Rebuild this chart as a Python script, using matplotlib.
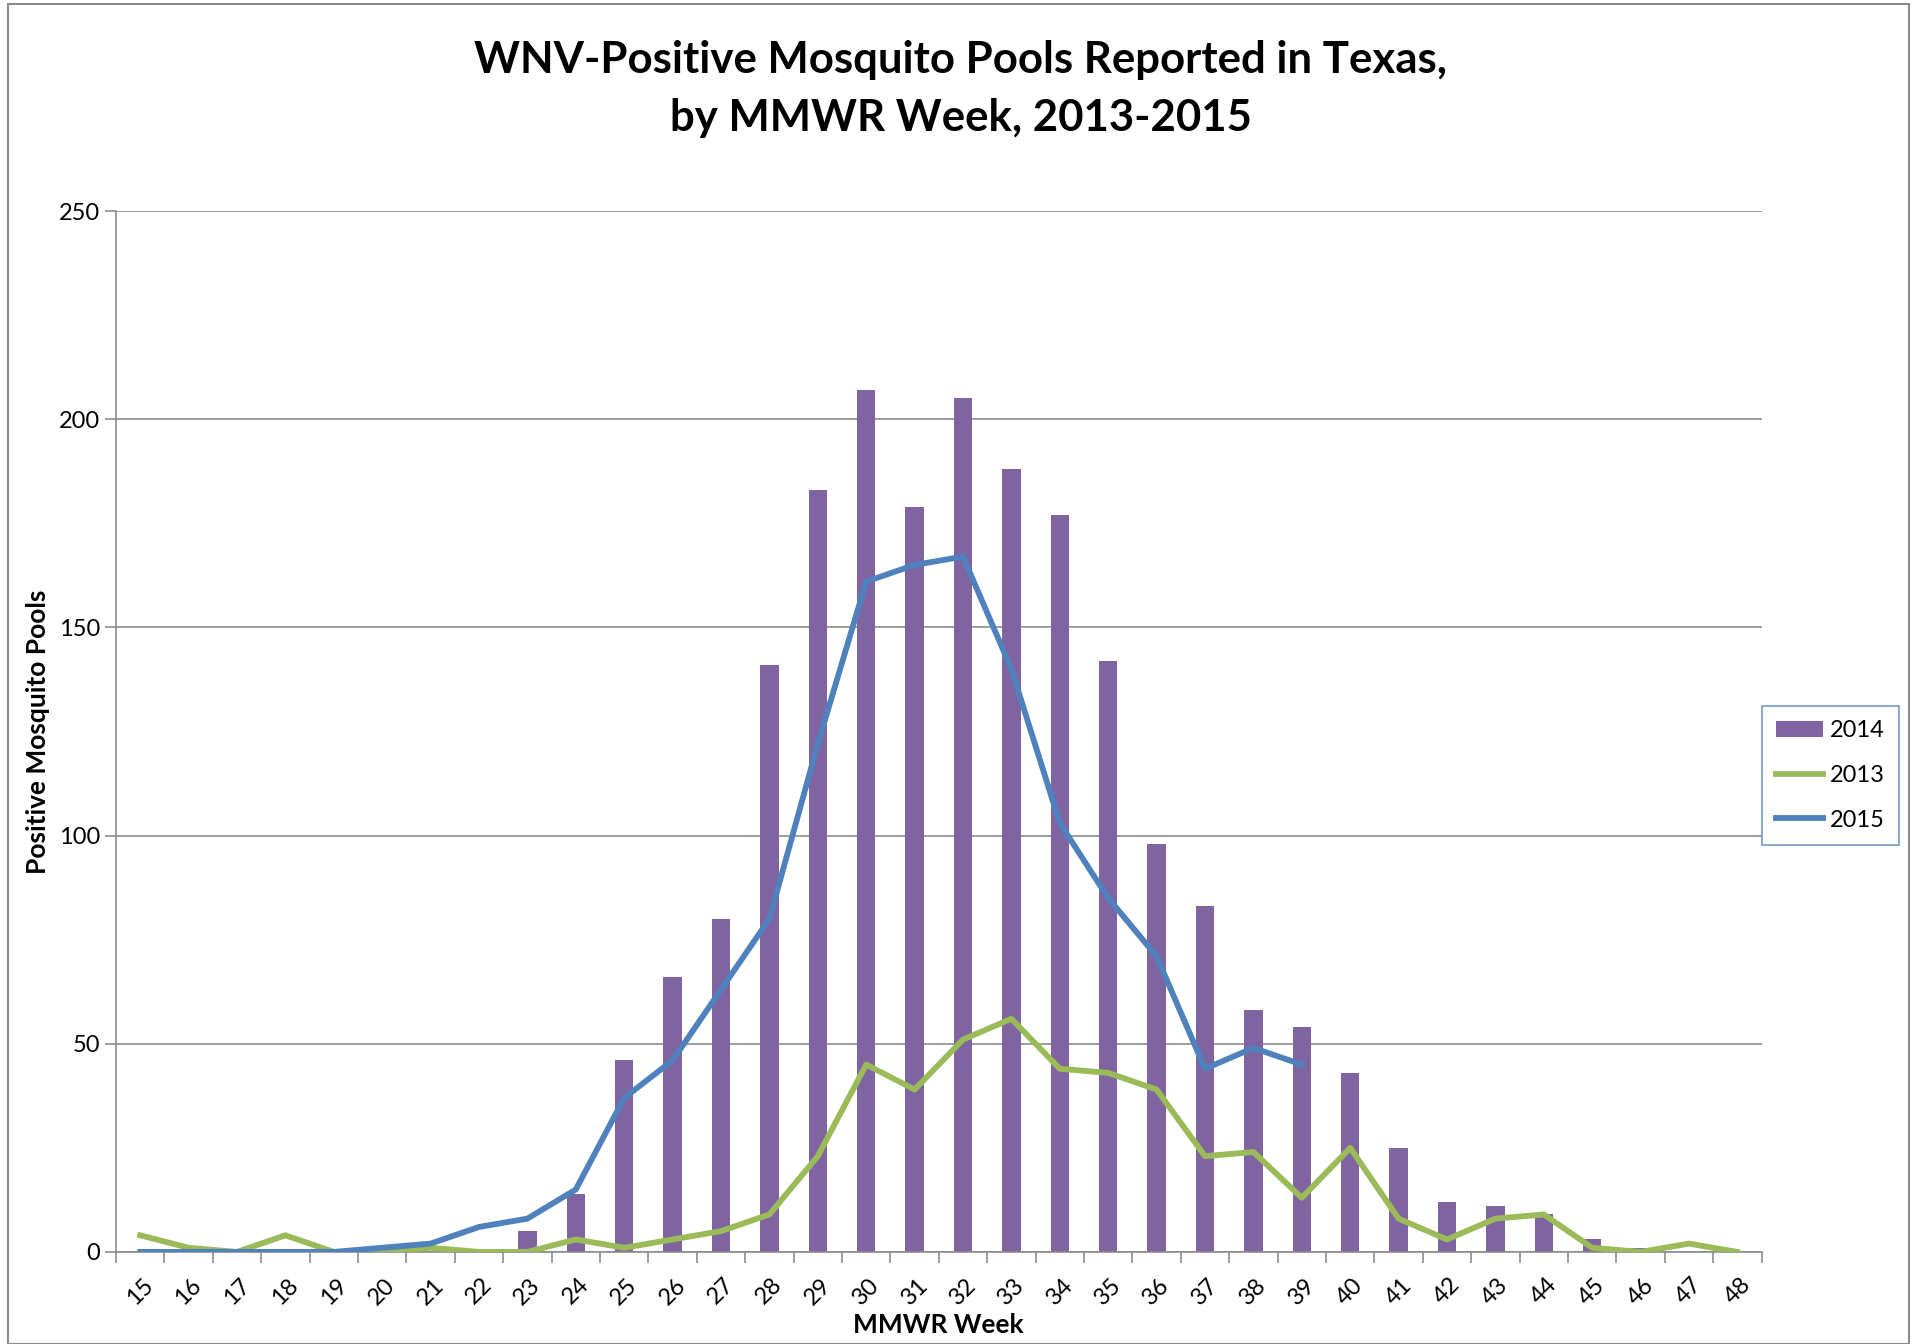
import numpy as np
import matplotlib
matplotlib.use("Agg")
import matplotlib.pyplot as plt
from matplotlib.patches import Rectangle

weeks = list(range(15, 49))
pools_2014 = [0, 0, 0, 0, 0, 0, 0, 0, 5, 14, 46, 66, 80, 141, 183, 207, 179, 205,
              188, 177, 142, 98, 83, 58, 54, 43, 25, 12, 11, 9, 3, 1, 0, 0]
pools_2013 = [4, 1, 0, 4, 0, 0, 1, 0, 0, 3, 1, 3, 5, 9, 23, 45, 39, 51,
              56, 44, 43, 39, 23, 24, 13, 25, 8, 3, 8, 9, 1, 0, 2, 0]
pools_2015 = [0, 0, 0, 0, 0, 1, 2, 6, 8, 15, 37, 46, 63, 80, 122, 161, 165, 167,
              140, 103, 85, 71, 44, 49, 45]

plt.rcParams["font.family"] = ["Lato", "DejaVu Sans"]

fig = plt.figure(figsize=(19.21, 13.44), dpi=100)
ax = fig.add_axes([0.0604, 0.0685, 0.8566, 0.7745])

x = np.arange(len(weeks))
b14 = ax.bar(x, pools_2014, width=0.38, color="#8064A2", label="2014", zorder=2)
l13, = ax.plot(x, pools_2013, color="#9BBB59", lw=4.2, label="2013", zorder=3)
l15, = ax.plot(x[:len(pools_2015)], pools_2015, color="#4F81BD", lw=4.2, label="2015", zorder=4)

ax.set_xlim(-0.5, len(weeks) - 0.5)
ax.set_ylim(0, 250)
ax.set_yticks(range(0, 251, 50))
ax.yaxis.grid(True, color="#8C8C8C", lw=1.2, zorder=0)
ax.set_axisbelow(True)

ax.set_xticks(x)
ax.set_xticklabels([str(w) for w in weeks], rotation=45, fontsize=17)
ax.set_xticks(np.arange(-0.5, len(weeks)), minor=True)
ax.tick_params(axis="x", which="major", length=0, pad=16)
ax.tick_params(axis="x", which="minor", length=8, color="#8C8C8C", width=1.2)
ax.tick_params(axis="y", labelsize=17, length=8, color="#8C8C8C", width=1.2)

for s in ["top", "right"]:
    ax.spines[s].set_visible(False)
for s in ["left", "bottom"]:
    ax.spines[s].set_color("#8C8C8C")
    ax.spines[s].set_linewidth(1.2)

ax.set_xlabel("MMWR Week", fontsize=19, fontweight="bold", labelpad=3)
ax.set_ylabel("Positive Mosquito Pools", fontsize=19, fontweight="bold", labelpad=6)

fig.text(0.5, 0.934, "WNV-Positive Mosquito Pools Reported in Texas,\nby MMWR Week, 2013-2015",
         ha="center", va="center", fontsize=31.5, fontweight="bold", linespacing=1.55)

leg = fig.legend([b14, l13, l15], ["2014", "2013", "2015"], loc="center left",
                 bbox_to_anchor=(0.917, 0.423), fontsize=17,
                 frameon=True, fancybox=False, handlelength=2.0, labelspacing=1.0,
                 borderpad=0.6, handletextpad=0.3, borderaxespad=0)
leg.get_frame().set_edgecolor("#4F81BD")
leg.get_frame().set_linewidth(1.2)

fig.patches.append(Rectangle((0.004, 0.0), 0.99, 0.997, transform=fig.transFigure,
                             fill=False, edgecolor="#8C8C8C", lw=1.5))

fig.savefig("out.png", dpi=100)
